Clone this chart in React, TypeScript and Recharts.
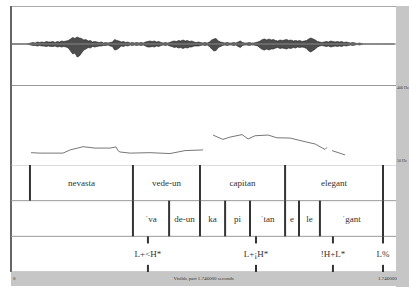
import { ComposedChart, Area, Line, Scatter, XAxis, YAxis, ReferenceLine } from 'recharts'

const DURATION = 1.746
const FRAME = 0.01 // waveform envelope frame step (s)

// waveform envelope per 10 ms frame: upper and lower amplitude
const waveUpper = [
  0, 0, 0, 0, 0, 0, 0, 0, 0.5, 1,
  1.5, 1, 2, 1.5, 2, 1.5, 2.5, 2, 2, 2.5,
  1.5, 2.5, 2, 3, 2.5, 3, 3.5, 5, 6.5, 5.5,
  7, 6, 5.5, 4, 4.5, 3, 3.5, 2, 2.5, 2,
  1.5, 2, 1, 1.5, 1, 1.5, 2, 4.5, 3.5, 3,
  2, 2.5, 1.5, 2, 1, 1.5, 1, 1.5, 1, 1.5,
  1, 2, 2.5, 3, 2.5, 3, 2, 2.5, 1.5, 1,
  1.5, 1, 1.5, 2.5, 3, 2.5, 3.5, 3, 4, 3,
  3.5, 2.5, 3, 2, 1.5, 2, 1.5, 1, 1.5, 1,
  2, 4, 5, 5.5, 3, 2, 1.5, 1, 1.5, 1,
  1, 1.5, 1, 2, 3, 1.5, 1, 1, 1.5, 1,
  1, 1.5, 2, 3, 4.5, 5, 4, 5, 4, 4.5,
  3.5, 3, 4, 3.5, 4, 4.5, 3.5, 4, 3, 3.5,
  3, 3.5, 2.5, 3, 3.5, 5, 6, 5, 4, 2.5,
  2, 1.5, 2, 2.5, 2, 3, 2.5, 2, 2.5, 2,
  2.5, 1.5, 2, 1.5, 1, 1.5, 1, 0.5, 1, 0.5,
  0, 0, 0, 0, 0, 0, 0, 0, 0, 0,
  0, 0, 0, 0, 0,
]
const waveLower = [
  0, 0, 0, 0, 0, 0, 0, 0, -0.5, -1,
  -1.5, -1.5, -2, -1.5, -2, -2, -2.5, -2, -2.5, -2.5,
  -2, -3, -2.5, -3, -2.5, -3, -4, -7, -10, -9,
  -13, -12, -9, -6, -5, -3.5, -4, -2.5, -3, -2.5,
  -2, -2, -1.5, -1.5, -1, -2, -2.5, -6, -5.5, -4,
  -2, -2.5, -1.5, -2, -1, -1.5, -1, -1.5, -1, -1.5,
  -1, -2, -3, -3, -2.5, -3, -2, -2.5, -1.5, -1,
  -1.5, -1, -2, -2.5, -3.5, -3, -4, -3.5, -4.5, -3.5,
  -4, -3, -3, -2, -2, -2, -1.5, -1, -1.5, -1,
  -2.5, -5, -7, -6.5, -3.5, -2.5, -1.5, -1, -1.5, -1,
  -1, -1.5, -1, -2.5, -3.5, -1.5, -1, -1, -1.5, -1,
  -1, -1.5, -2, -4, -5.5, -6, -5, -6, -5, -5,
  -4, -3.5, -4.5, -4, -4.5, -5, -4, -4.5, -3.5, -4,
  -3, -3.5, -3, -3.5, -4.5, -7, -8, -6.5, -5, -3,
  -2, -1.5, -2, -2.5, -2, -3, -2.5, -2, -2.5, -2,
  -2.5, -1.5, -2, -1.5, -1, -1.5, -1, -0.5, -1, -0.5,
  0, 0, 0, 0, 0, 0, 0, 0, 0, 0,
  0, 0, 0, 0, 0,
]

// pitch track (Hz), null = unvoiced
const pitchTimes = [0.091, 0.132, 0.236, 0.268, 0.327, 0.381, 0.449, 0.476, 0.485, 0.494, 0.54, 0.63, 0.721, 0.789, 0.871, 0.893, 0.916, 0.961, 0.993, 1.048, 1.075, 1.107, 1.166, 1.206, 1.265, 1.333, 1.379, 1.424, 1.433, 1.445, 1.456, 1.515]
const pitchHz = [104, 102, 102, 116, 130, 124, 124, 129, 113, 107, 102, 104, 100, 113, 116, null, 181, 162, 172, 183, 164, 178, 181, 169, 168, 152, 142, 118, 127, null, 113, 94]

// tier 1: words
const wordBounds = [0.086, 0.553, 0.857, 1.243, 1.687]
const wordLabels = ['nevasta', 'vede-un', 'capitan', 'elegant']

// tier 2: syllables
const sylBounds = [0.553, 0.717, 0.857, 0.971, 1.084, 1.243, 1.306, 1.401, 1.687]
const sylLabels = ['ˈva', 'de-un', 'ka', 'pi', 'ˈtan', 'e', 'le', 'ˈgant']

// tier 3: tones (points)
const tonePoints = [0.621, 1.111, 1.46, 1.687]
const toneLabels = ['L+<H*', 'L+¡H*', '!H+L*', 'L%']

const waveData = waveUpper.map((u, i) => ({ t: i * FRAME, range: [waveLower[i], u] }))
const pitchData = pitchTimes.map((t, i) => ({ t, f: pitchHz[i] }))
const wordText = wordLabels.map((label, i) => ({ t: (wordBounds[i] + wordBounds[i + 1]) / 2, y: 0.5, label }))
const sylText = sylLabels.map((label, i) => ({ t: (sylBounds[i] + sylBounds[i + 1]) / 2, y: 1.5, label }))
const toneText = tonePoints.map((t, i) => ({ t, y: 2.5, label: toneLabels[i] }))

const W = 409
const M = { top: 0, bottom: 0, left: 11, right: 13 }
const GRAY = '#c6c6c6'
const serif = '"Liberation Serif", "DejaVu Serif", serif'

const Label = (p: any) => (
  <text x={p.cx} y={p.cy} textAnchor="middle" dominantBaseline="central"
    fontFamily={serif} fontSize={9} fill="#333">{p.payload.label}</text>
)

export default function App() {
  return (
    <div style={{ position: 'absolute', left: 0, top: 0, width: W, height: 287, background: '#fff', overflow: 'hidden' }}>
      {/* side strip and bottom bar */}
      <div style={{ position: 'absolute', left: 396, top: 6, width: 13, height: 281, background: GRAY }} />
      <div style={{ position: 'absolute', left: 11, top: 272, width: 398, height: 14, background: GRAY }} />
      <div style={{ position: 'absolute', left: 11, top: 6, width: 385, height: 1, background: '#aaa' }} />
      <div style={{ position: 'absolute', left: 11, top: 85, width: 385, height: 1, background: '#999' }} />
      <div style={{ position: 'absolute', left: 10, top: 6, width: 2, height: 266, background: '#666' }} />
      <div style={{ position: 'absolute', left: 13, top: 276, fontFamily: serif, fontSize: 5, color: '#333' }}>0</div>
      <div style={{ position: 'absolute', left: 11, width: 385, top: 276, textAlign: 'center', fontFamily: serif, fontSize: 5, color: '#333' }}>Visible part 1.746000 seconds</div>
      <div style={{ position: 'absolute', left: 378, top: 276, fontFamily: serif, fontSize: 5, color: '#333' }}>1.746000</div>
      <div style={{ position: 'absolute', left: 397, top: 85, fontFamily: serif, fontSize: 4, color: '#333' }}>400 Hz</div>
      <div style={{ position: 'absolute', left: 397, top: 158, fontFamily: serif, fontSize: 4, color: '#333' }}>50 Hz</div>

      {/* waveform */}
      <div style={{ position: 'absolute', left: 0, top: 7 }}>
        <ComposedChart width={W} height={78} data={waveData} margin={M}>
          <XAxis dataKey="t" type="number" domain={[0, DURATION]} hide allowDataOverflow />
          <YAxis type="number" domain={[-41, 37]} hide allowDataOverflow />
          <ReferenceLine y={0} stroke="#888" strokeWidth={1} />
          <Area dataKey="range" type="linear" stroke="#222" strokeWidth={0.6} fill="#3a3a3a" fillOpacity={0.9} isAnimationActive={false} />
        </ComposedChart>
      </div>

      {/* pitch */}
      <div style={{ position: 'absolute', left: 0, top: 85 }}>
        <ComposedChart width={W} height={80} data={pitchData} margin={M}>
          <XAxis dataKey="t" type="number" domain={[0, DURATION]} hide allowDataOverflow />
          <YAxis type="number" domain={[50, 400]} hide allowDataOverflow />
          <Line dataKey="f" type="linear" stroke="#777" strokeWidth={1} dot={false} connectNulls={false} isAnimationActive={false} />
        </ComposedChart>
      </div>

      {/* tiers */}
      <div style={{ position: 'absolute', left: 0, top: 165 }}>
        <ComposedChart width={W} height={107} margin={M}>
          <XAxis dataKey="t" type="number" domain={[0, DURATION]} hide allowDataOverflow />
          <YAxis dataKey="y" type="number" domain={[0, 3]} reversed hide allowDataOverflow />
          <ReferenceLine y={0} stroke="#bbb" strokeWidth={1} />
          <ReferenceLine y={1} stroke="#999" strokeWidth={1} />
          <ReferenceLine y={2} stroke="#999" strokeWidth={1} />
          <ReferenceLine y={3} stroke="#999" strokeWidth={1} />
          {wordBounds.map((t) => (
            <ReferenceLine key={'w' + t} segment={[{ x: t, y: 0 }, { x: t, y: 1 }]} stroke="#333" strokeWidth={2} />
          ))}
          {sylBounds.map((t) => (
            <ReferenceLine key={'s' + t} segment={[{ x: t, y: 1 }, { x: t, y: 2 }]} stroke="#333" strokeWidth={2} />
          ))}
          {tonePoints.map((t) => (
            <ReferenceLine key={'a' + t} segment={[{ x: t, y: 2 }, { x: t, y: 2.2 }]} stroke="#333" strokeWidth={2} />
          ))}
          {tonePoints.map((t) => (
            <ReferenceLine key={'b' + t} segment={[{ x: t, y: 2.8 }, { x: t, y: 3 }]} stroke="#333" strokeWidth={2} />
          ))}
          <Scatter data={wordText} shape={Label} isAnimationActive={false} />
          <Scatter data={sylText} shape={Label} isAnimationActive={false} />
          <Scatter data={toneText} shape={Label} isAnimationActive={false} />
        </ComposedChart>
      </div>
    </div>
  )
}
